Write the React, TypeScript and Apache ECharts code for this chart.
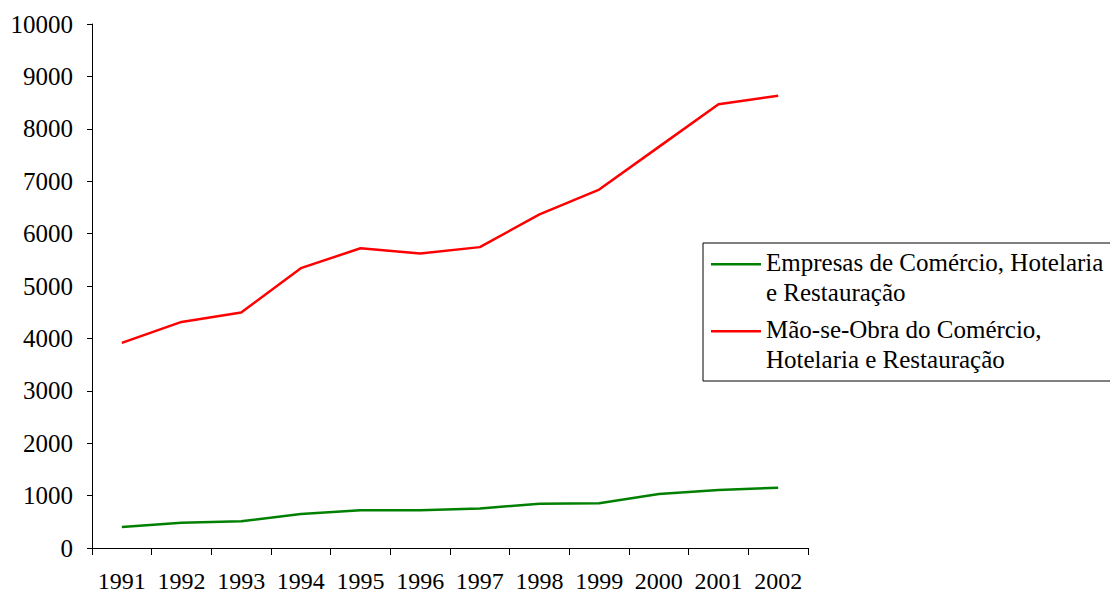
import React, { useEffect, useRef } from "react";
import * as echarts from "echarts";

const years = ["1991", "1992", "1993", "1994", "1995", "1996", "1997", "1998", "1999", "2000", "2001", "2002"];
const empresas = [401, 483, 509, 649, 719, 722, 752, 846, 856, 1031, 1107, 1150];
const maoDeObra = [3915, 4315, 4495, 5340, 5720, 5620, 5742, 6367, 6840, 7655, 8470, 8630];
const seriesNames = ["Empresas de Comércio, Hotelaria\ne Restauração", "Mão-se-Obra do Comércio,\nHotelaria e Restauração"];
const yMin = 0;
const yMax = 10000;
const yStep = 1000;

const FONT = "Liberation Serif";

export default function App() {
  const ref = useRef<HTMLDivElement>(null);
  useEffect(() => {
    if (!ref.current) return;
    const chart = echarts.init(ref.current, undefined, { renderer: "svg" });
    const icon = "path://M0,0H0.001V0.001H0Z M0,16H50V18.5H0Z M0,59.99H0.001V60H0Z";
    chart.setOption({
      animation: false,
      backgroundColor: "#ffffff",
      textStyle: { fontFamily: FONT },
      grid: { left: 92, top: 24, right: 302, bottom: 47, containLabel: false },
      legend: {
        orient: "vertical",
        left: 703,
        top: 243,
        padding: [4, 12, 7, 8],
        itemGap: 7,
        itemWidth: 50,
        itemHeight: 60,
        backgroundColor: "#ffffff",
        borderColor: "#000000",
        borderWidth: 1,
        borderRadius: 0,
        icon,
        textStyle: { fontFamily: FONT, fontSize: 25, color: "#000", lineHeight: 30, padding: [0, 0, 0, 0] },
        data: seriesNames.map((n) => ({ name: n, icon })),
      },
      xAxis: {
        type: "category",
        data: years,
        boundaryGap: true,
        axisLine: { show: true, lineStyle: { color: "#000", width: 1 } },
        axisTick: { show: true, length: 7, lineStyle: { color: "#000" } },
        axisLabel: { fontFamily: FONT, fontSize: 24, color: "#000", margin: 21, interval: 0 },
        splitLine: { show: false },
      },
      yAxis: {
        type: "value",
        min: yMin,
        max: yMax,
        interval: yStep,
        axisLine: { show: true, lineStyle: { color: "#000", width: 1 } },
        axisTick: { show: true, length: 5, lineStyle: { color: "#000" } },
        axisLabel: {
          fontFamily: FONT,
          fontSize: 25,
          color: "#000",
          margin: 19,
          formatter: (v: number) => String(v),
        },
        splitLine: { show: false },
      },
      series: [
        {
          name: seriesNames[0],
          type: "line",
          data: empresas,
          showSymbol: false,
          symbol: "none",
          lineStyle: { color: "#008000", width: 2.5 },
          itemStyle: { color: "#008000" },
        },
        {
          name: seriesNames[1],
          type: "line",
          data: maoDeObra,
          showSymbol: false,
          symbol: "none",
          lineStyle: { color: "#ff0000", width: 2.5 },
          itemStyle: { color: "#ff0000" },
        },
      ],
    });
    return () => chart.dispose();
  }, []);
  return (
    <div
      ref={ref}
      style={{ position: "fixed", left: 0, top: 0, width: 1110, height: 595, background: "#fff" }}
    />
  );
}
